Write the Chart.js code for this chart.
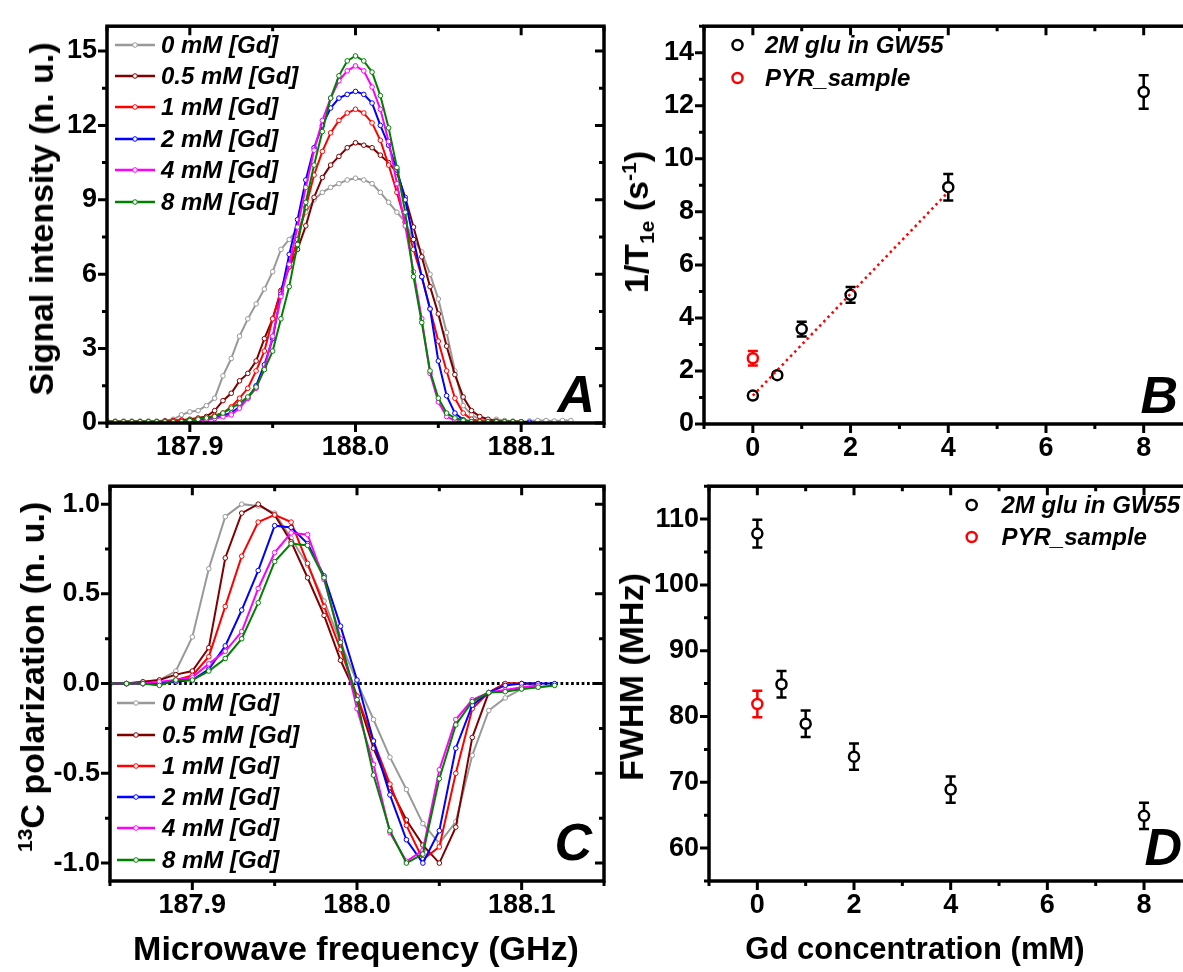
<!DOCTYPE html>
<html>
<head>
<meta charset="utf-8">
<script src="https://cdn.jsdelivr.net/npm/chart.js@4.4.0/dist/chart.umd.min.js"></script>
<style>
  html, body { margin: 0; overflow: hidden; }
  body { width: 1183px; height: 972px; position: relative; background: #fff;
         font-family: "Liberation Sans", Arial, sans-serif; }
  canvas { position: absolute; }
  .t { position: absolute; font-weight: bold; font-size: 34px; line-height: 1; white-space: nowrap; color: #000; }
  .rot { transform: translate(-50%, -50%) rotate(-90deg); }
  .hor { transform: translate(-50%, -50%); }
  sup { font-size: 62%; vertical-align: 0; position: relative; top: -0.55em; }
  sub { font-size: 62%; vertical-align: 0; position: relative; top: 0.3em; }
</style>
</head>
<body>
<canvas id="cA" width="640" height="470" style="left:0;top:0"></canvas>
<canvas id="cB" width="640" height="470" style="left:620px;top:0"></canvas>
<canvas id="cC" width="640" height="480" style="left:0;top:460px"></canvas>
<canvas id="cD" width="640" height="480" style="left:620px;top:460px"></canvas>

<div class="t rot" style="left:41px;top:219px">Signal intensity (n. u.)</div>
<div class="t rot" style="left:32px;top:677px"><sup>13</sup>C polarization (n. u.)</div>
<div class="t rot" style="left:636px;top:222px">1/T<sub>1e</sub> (s<sup>-1</sup>)</div>
<div class="t rot" style="left:631px;top:677px">FWHM (MHz)</div>
<div class="t hor" style="left:356px;top:948px">Microwave frequency (GHz)</div>
<div class="t hor" style="left:915px;top:948px;font-size:31px">Gd concentration (mM)</div>

<script>
// Datos

const etiquetas = ["0 mM [Gd]", "0.5 mM [Gd]", "1 mM [Gd]", "2 mM [Gd]", "4 mM [Gd]", "8 mM [Gd]"];
const colores = ["#999999", "#800000", "#ff0000", "#0000ff", "#ff00ff", "#008000"];

// Panel A: intensidad de senal vs frecuencia
const freqA = [187.850, 187.855, 187.860, 187.865, 187.870, 187.875, 187.880, 187.885, 187.890, 187.895,
  187.900, 187.905, 187.910, 187.915, 187.920, 187.925, 187.930, 187.935, 187.940, 187.945,
  187.950, 187.955, 187.960, 187.965, 187.970, 187.975, 187.980, 187.985, 187.990, 187.995,
  188.000, 188.005, 188.010, 188.015, 188.020, 188.025, 188.030, 188.035, 188.040, 188.045,
  188.050, 188.055, 188.060, 188.065, 188.070, 188.075, 188.080, 188.085, 188.090, 188.095,
  188.100, 188.105, 188.110, 188.115, 188.120, 188.125, 188.130];

const senal0 = [0.08, 0.08, 0.08, 0.08, 0.08, 0.08, 0.08, 0.10, 0.15, 0.33,
  0.45, 0.50, 0.70, 1.00, 1.90, 2.60, 3.50, 4.20, 4.80, 5.40,
  6.10, 7.00, 7.40, 7.80, 8.50, 9.00, 9.30, 9.50, 9.65, 9.80,
  9.87, 9.80, 9.65, 9.30, 8.90, 8.50, 8.10, 7.40, 6.90, 6.00,
  5.00, 3.65, 2.10, 0.70, 0.33, 0.15, 0.10, 0.15, 0.10, 0.08,
  0.05, 0.08, 0.10, 0.10, 0.08, 0.10, 0.10];
const senal05 = [0.05, 0.05, 0.05, 0.05, 0.05, 0.05, 0.05, 0.08, 0.10, 0.12,
  0.15, 0.20, 0.26, 0.50, 0.90, 1.20, 1.70, 2.00, 2.50, 3.40,
  4.20, 5.35, 6.30, 7.00, 7.95, 9.10, 9.90, 10.40, 10.75, 11.10,
  11.30, 11.20, 11.10, 10.80, 10.50, 10.10, 9.10, 7.90, 6.70, 5.50,
  4.40, 3.10, 1.95, 1.05, 0.50, 0.26, 0.15, 0.08, 0.05, 0.05,
  0.05];
const senal1 = [0.05, 0.05, 0.05, 0.05, 0.05, 0.05, 0.05, 0.05, 0.08, 0.10,
  0.12, 0.15, 0.20, 0.30, 0.40, 0.65, 1.00, 1.40, 2.10, 2.90,
  4.20, 5.30, 6.30, 7.40, 8.70, 10.00, 10.95, 11.70, 12.20, 12.50,
  12.65, 12.50, 12.10, 11.40, 10.40, 9.30, 8.10, 7.00, 5.90, 4.60,
  3.30, 2.10, 1.00, 0.40, 0.15, 0.08, 0.05, 0.05, 0.05, 0.05,
  0.05];
const senal2 = [0.03, 0.03, 0.03, 0.03, 0.03, 0.03, 0.03, 0.03, 0.03, 0.05,
  0.08, 0.10, 0.15, 0.20, 0.30, 0.40, 0.65, 1.00, 1.50, 2.35,
  3.40, 5.20, 6.80, 8.20, 9.80, 11.10, 12.00, 12.70, 13.10, 13.25,
  13.37, 13.25, 12.90, 12.00, 11.20, 10.20, 9.00, 7.40, 5.90, 4.60,
  2.50, 1.10, 0.40, 0.13, 0.05, 0.03, 0.03, 0.03, 0.03, 0.03,
  0.03, 0.03];
const senal4 = [0.02, 0.02, 0.02, 0.02, 0.02, 0.02, 0.02, 0.02, 0.02, 0.02,
  0.05, 0.08, 0.12, 0.18, 0.25, 0.33, 0.60, 1.00, 1.40, 2.20,
  3.50, 5.10, 6.40, 7.90, 9.50, 11.00, 12.20, 13.10, 13.80, 14.20,
  14.40, 14.20, 13.55, 12.65, 11.35, 9.65, 7.95, 6.10, 4.20, 2.00,
  0.85, 0.26, 0.10, 0.02, 0.02, 0.02, 0.02, 0.02, 0.02, 0.02,
  0.02];
const senal8 = [0.05, 0.05, 0.05, 0.05, 0.05, 0.05, 0.05, 0.05, 0.05, 0.05,
  0.10, 0.15, 0.20, 0.26, 0.40, 0.60, 0.80, 1.05, 1.45, 2.15,
  2.90, 4.20, 5.50, 7.20, 8.90, 10.40, 11.75, 13.10, 14.00, 14.60,
  14.80, 14.60, 14.15, 13.20, 11.90, 10.30, 8.50, 5.90, 4.05, 2.10,
  1.00, 0.40, 0.20, 0.10, 0.05, 0.05, 0.05, 0.05, 0.05, 0.05,
  0.05];

// Panel C: polarizacion 13C vs frecuencia
const freqC = [187.85, 187.86, 187.87, 187.88, 187.89, 187.90, 187.91, 187.92, 187.93, 187.94,
  187.95, 187.96, 187.97, 187.98, 187.99, 188.00, 188.01, 188.02, 188.03, 188.04,
  188.05, 188.06, 188.07, 188.08, 188.09, 188.10, 188.11, 188.12];

const polar0 = [0, 0, 0.01, 0.02, 0.07, 0.26, 0.64, 0.93, 1.0, 0.99, 0.95, 0.81, 0.66, 0.46, 0.23,
  0.01, -0.2, -0.41, -0.59, -0.78, -0.89, -0.77, -0.4, -0.15, -0.08, -0.03, -0.02, -0.01];
const polar05 = [0, 0, 0.01, 0.02, 0.05, 0.07, 0.2, 0.7, 0.95, 1.0, 0.94, 0.79, 0.59, 0.38, 0.13,
  -0.07, -0.36, -0.58, -0.76, -0.9, -1.0, -0.8, -0.3, -0.05, 0, 0, 0];
const polar1 = [0, 0, 0, 0, 0.02, 0.045, 0.15, 0.43, 0.71, 0.9, 0.94, 0.9, 0.67, 0.43, 0.19,
  -0.07, -0.32, -0.56, -0.79, -0.98, -0.91, -0.5, -0.14, -0.05, 0, 0];
const polar2 = [0, 0, 0, 0, 0.01, 0.02, 0.08, 0.21, 0.41, 0.63, 0.88, 0.87, 0.78, 0.6, 0.32,
  0.02, -0.32, -0.62, -0.87, -1.0, -0.82, -0.36, -0.12, -0.05, -0.01, 0, 0, 0];
const polar4 = [0, 0, 0, 0.01, 0.02, 0.035, 0.11, 0.18, 0.29, 0.53, 0.73, 0.84, 0.83, 0.58, 0.25,
  -0.14, -0.45, -0.83, -0.99, -0.93, -0.48, -0.2, -0.09, -0.05, -0.036, -0.02, -0.01];
const polar8 = [0, 0, 0, -0.01, 0.02, 0.02, 0.07, 0.14, 0.25, 0.45, 0.68, 0.78, 0.77, 0.59, 0.23,
  -0.09, -0.51, -0.82, -1.0, -0.95, -0.53, -0.23, -0.1, -0.05, -0.045, -0.03, -0.02, -0.01];
const ceroX = [187.85, 188.15];
const ceroY = [0, 0];

// Panel B: 1/T1e vs concentracion de Gd
const concGlu = [0, 0.5, 1, 2, 4, 8];
const tasaGlu = [1.07, 1.84, 3.58, 4.87, 8.93, 12.52];
const tasaGluErr = [0.1, 0.1, 0.28, 0.3, 0.5, 0.63];
const concPyr = [0];
const tasaPyr = [2.48];
const tasaPyrErr = [0.27];
const ajusteX = [0, 4];
const ajusteY = [1.07, 8.75];

// Panel D: FWHM vs concentracion de Gd
const fwhmGlu = [107.8, 84.9, 78.9, 73.9, 68.9, 64.9];
const fwhmGluErr = [2.1, 2, 2, 2, 2, 2];
const fwhmPyr = [81.9];
const fwhmPyrErr = [2];

// Marcas de los ejes
const ticksFreq = [187.9, 188.0, 188.1];
const menoresFreq = [187.85, 187.95, 188.05, 188.15];
const ticksConc = [0, 2, 4, 6, 8];
const mayoresConc = [0, 2, 4, 6, 8, 10];
const menoresConc = [-1, 1, 3, 5, 7, 9];
const ticksSenal = [0, 3, 6, 9, 12, 15];
const menoresSenal = [1.5, 4.5, 7.5, 10.5, 13.5];
const ticksPolar = [-1, -0.5, 0, 0.5, 1];
const menoresPolar = [-0.75, -0.25, 0.25, 0.75];
const ticksTasa = [0, 2, 4, 6, 8, 10, 12, 14];
const menoresTasa = [1, 3, 5, 7, 9, 11, 13, 15];
const ticksFwhm = [60, 70, 80, 90, 100, 110];
const menoresFwhm = [55, 65, 75, 85, 95, 105, 115];

Chart.defaults.font.family = '"Liberation Sans", Arial, sans-serif';
Chart.defaults.font.weight = 'bold';
Chart.defaults.font.size = 27;
Chart.defaults.color = '#000';

const FUENTE = '"Liberation Sans", Arial, sans-serif';

// Marco con ticks (abajo/izquierda hacia afuera, arriba/derecha hacia adentro)
const marco = {
  id: 'marco',
  afterDraw(chart, args, o) {
    const { ctx, chartArea: a } = chart;
    const x = chart.scales.x, y = chart.scales.y;
    ctx.save();
    ctx.strokeStyle = '#000';
    ctx.lineWidth = 3;
    const tx = (vals, len) => vals.forEach(v => {
      const p = x.getPixelForValue(v);
      if (p < a.left - 1 || p > a.right + 1) return;
      ctx.beginPath();
      ctx.moveTo(p, a.bottom); ctx.lineTo(p, a.bottom + len);
      ctx.moveTo(p, a.top); ctx.lineTo(p, a.top + len);
      ctx.stroke();
    });
    const ty = (vals, len) => vals.forEach(v => {
      const p = y.getPixelForValue(v);
      if (p < a.top - 1 || p > a.bottom + 1) return;
      ctx.beginPath();
      ctx.moveTo(a.left, p); ctx.lineTo(a.left - len, p);
      ctx.moveTo(a.right, p); ctx.lineTo(a.right - len, p);
      ctx.stroke();
    });
    tx(o.xMayor, 9); tx(o.xMenor, 5);
    ty(o.yMayor, 9); ty(o.yMenor, 5);
    ctx.lineWidth = 3.5;
    ctx.strokeRect(a.left, a.top, a.right - a.left, a.bottom - a.top);
    ctx.restore();
  }
};

// Barras de error
const barrasError = {
  id: 'barrasError',
  beforeDatasetsDraw(chart) {
    const { ctx } = chart;
    const y = chart.scales.y;
    chart.data.datasets.forEach((ds, i) => {
      if (!ds.errores) return;
      const meta = chart.getDatasetMeta(i);
      ctx.save();
      ctx.strokeStyle = ds.borderColor;
      ctx.lineWidth = 2.5;
      meta.data.forEach((pt, j) => {
        const v = ds.data[j].y, e = ds.errores[j];
        const arriba = y.getPixelForValue(v + e), abajo = y.getPixelForValue(v - e);
        ctx.beginPath();
        ctx.moveTo(pt.x, arriba); ctx.lineTo(pt.x, abajo);
        ctx.moveTo(pt.x - 5, arriba); ctx.lineTo(pt.x + 5, arriba);
        ctx.moveTo(pt.x - 5, abajo); ctx.lineTo(pt.x + 5, abajo);
        ctx.stroke();
      });
      ctx.restore();
    });
  }
};

// Leyenda y letra del panel
const deco = {
  id: 'deco',
  afterDraw(chart, args, o) {
    const ctx = chart.ctx;
    ctx.save();
    ctx.font = 'italic bold 24px ' + FUENTE;
    ctx.textBaseline = 'middle';
    chart.data.datasets.forEach(ds => {
      if (ds.fila === undefined) return;
      const ry = o.filas[ds.fila];
      if (o.lineaDesde !== undefined) {
        ctx.strokeStyle = ds.borderColor;
        ctx.lineWidth = 2.5;
        ctx.beginPath(); ctx.moveTo(o.lineaDesde, ry); ctx.lineTo(o.lineaHasta, ry); ctx.stroke();
      }
      ctx.beginPath();
      ctx.arc(o.marcaX, ry, ds.pointRadius, 0, 2 * Math.PI);
      ctx.fillStyle = '#fff'; ctx.fill();
      ctx.lineWidth = ds.pointBorderWidth; ctx.strokeStyle = ds.borderColor; ctx.stroke();
      ctx.fillStyle = '#000';
      ctx.fillText(ds.label, o.textoX, ry + 1);
    });
    ctx.font = 'italic bold 52px ' + FUENTE;
    ctx.textAlign = 'right';
    ctx.textBaseline = 'alphabetic';
    ctx.fillStyle = '#000';
    ctx.fillText(o.letra, o.letraX, o.letraY);
    ctx.restore();
  }
};

function eje(min, max, ticks, fmt, tam, esX) {
  return {
    type: 'linear', min, max,
    grid: { display: false, drawTicks: false },
    border: { display: false },
    ticks: { padding: esX ? 8 : 10, autoSkip: false, maxRotation: 0, callback: v => fmt(v) },
    afterBuildTicks: s => { s.ticks = ticks.map(v => ({ value: v })); },
    afterFit: s => { if (esX) s.height = tam; else s.width = tam; }
  };
}

function pares(xs, ys) {
  return ys.map((v, i) => ({ x: xs[i], y: v }));
}

function curvas(xs, series) {
  return series.map((ys, i) => ({
    label: etiquetas[i],
    data: pares(xs, ys),
    borderColor: colores[i],
    backgroundColor: colores[i],
    borderWidth: 2,
    pointRadius: 2.3,
    pointBorderWidth: 1,
    pointBackgroundColor: '#fff',
    pointBorderColor: colores[i],
    tension: 0,
    fila: i,
    order: 5 - i
  }));
}

const comunes = {
  responsive: false,
  animation: false,
  events: []
};

// Panel A
new Chart(document.getElementById('cA'), {
  type: 'line',
  data: { datasets: curvas(freqA, [senal0, senal05, senal1, senal2, senal4, senal8]) },
  options: {
    ...comunes,
    layout: { padding: { left: 0, top: 15, right: 36, bottom: 0 } },
    scales: {
      x: eje(187.85, 188.15, ticksFreq, v => v.toFixed(1), 47, true),
      y: eje(0, 16, ticksSenal, v => String(v), 107, false)
    },
    plugins: {
      legend: { display: false }, tooltip: { enabled: false },
      marco: { xMayor: ticksFreq, xMenor: menoresFreq, yMayor: ticksSenal, yMenor: menoresSenal },
      deco: { filas: [45, 76, 107, 139, 170, 202], lineaDesde: 115, lineaHasta: 155, marcaX: 135, textoX: 161,
              letra: 'A', letraX: 595, letraY: 412 }
    }
  },
  plugins: [marco, barrasError, deco]
});

// Panel C
const dsC = curvas(freqC, [polar0, polar05, polar1, polar2, polar4, polar8]);
dsC.push({
  data: pares(ceroX, ceroY),
  borderColor: '#000', borderWidth: 3, borderDash: [2.7, 2.6],
  pointRadius: 0, order: 10
});
new Chart(document.getElementById('cC'), {
  type: 'line',
  data: { datasets: dsC },
  options: {
    ...comunes,
    layout: { padding: { left: 0, top: 13, right: 36, bottom: 0 } },
    scales: {
      x: eje(187.85, 188.15, ticksFreq, v => v.toFixed(1), 59, true),
      y: eje(-1.1, 1.1, ticksPolar, v => v.toFixed(1), 110, false)
    },
    plugins: {
      legend: { display: false }, tooltip: { enabled: false },
      marco: { xMayor: ticksFreq, xMenor: menoresFreq, yMayor: ticksPolar, yMenor: menoresPolar },
      deco: { filas: [243, 275, 306, 337, 368, 400], lineaDesde: 117, lineaHasta: 155, marcaX: 136, textoX: 162,
              letra: 'C', letraX: 592, letraY: 400 }
    }
  },
  plugins: [marco, barrasError, deco]
});

function puntos(label, xs, ys, errs, color, fila, orden) {
  return {
    label, data: pares(xs, ys), errores: errs,
    showLine: false, borderColor: color, backgroundColor: '#fff',
    pointRadius: 5, pointBorderWidth: 2.5, pointBackgroundColor: '#fff', pointBorderColor: color,
    fila, order: orden
  };
}

// Panel B
new Chart(document.getElementById('cB'), {
  type: 'line',
  data: {
    datasets: [
      { data: pares(ajusteX, ajusteY), borderColor: '#ff0000', borderWidth: 2.5, borderDash: [2.5, 3.5], pointRadius: 0, order: 0 },
      puntos('2M glu in GW55', concGlu, tasaGlu, tasaGluErr, '#000', 0, 1),
      puntos('PYR_sample', concPyr, tasaPyr, tasaPyrErr, '#ff0000', 1, 2)
    ]
  },
  options: {
    ...comunes,
    layout: { padding: { left: 0, top: 15, right: 18.6, bottom: 0 } },
    scales: {
      x: eje(-1, 10, ticksConc, v => String(v), 46, true),
      y: eje(0, 15, ticksTasa, v => String(v), 84, false)
    },
    plugins: {
      legend: { display: false }, tooltip: { enabled: false },
      marco: { xMayor: mayoresConc, xMenor: menoresConc, yMayor: ticksTasa, yMenor: menoresTasa },
      deco: { filas: [45, 78], marcaX: 117.5, textoX: 145, letra: 'B', letraX: 558, letraY: 413 }
    }
  },
  plugins: [marco, barrasError, deco]
});

// Panel D
new Chart(document.getElementById('cD'), {
  type: 'line',
  data: {
    datasets: [
      puntos('2M glu in GW55', concGlu, fwhmGlu, fwhmGluErr, '#000', 0, 1),
      puntos('PYR_sample', concPyr, fwhmPyr, fwhmPyrErr, '#ff0000', 1, 2)
    ]
  },
  options: {
    ...comunes,
    layout: { padding: { left: 0, top: 13, right: 19.3, bottom: 0 } },
    scales: {
      x: eje(-1, 10, ticksConc, v => String(v), 59, true),
      y: eje(55, 115, ticksFwhm, v => String(v), 89, false)
    },
    plugins: {
      legend: { display: false }, tooltip: { enabled: false },
      marco: { xMayor: mayoresConc, xMenor: menoresConc, yMayor: ticksFwhm, yMenor: menoresFwhm },
      deco: { filas: [45, 77], marcaX: 351.7, textoX: 381.5, letra: 'D', letraX: 562, letraY: 405 }
    }
  },
  plugins: [marco, barrasError, deco]
});
</script>
</body>
</html>
